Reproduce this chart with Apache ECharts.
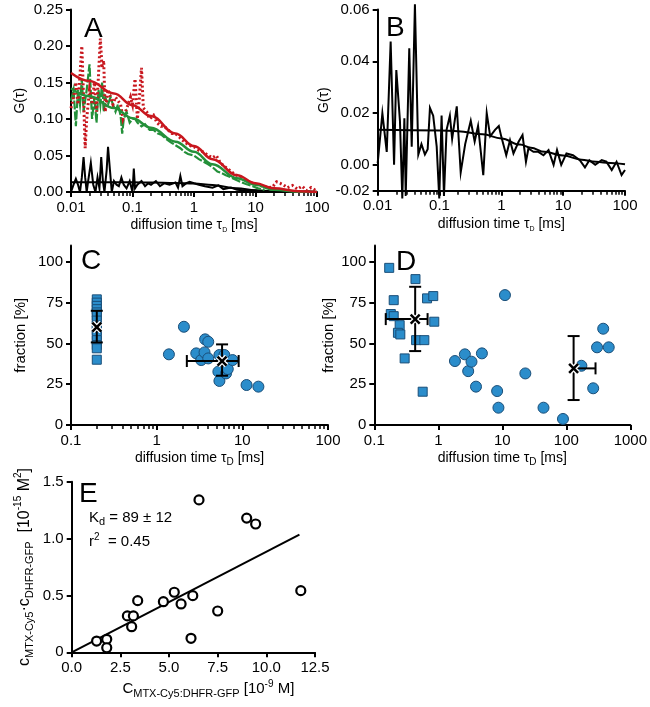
<!DOCTYPE html>
<html><head><meta charset="utf-8">
<script src="https://cdn.jsdelivr.net/npm/echarts@6/dist/echarts.min.js"></script>
<style>html,body{margin:0;padding:0;background:#fff}#c{width:650px;height:707px}</style>
</head><body><div id="c"></div>
<script>
// ---------- Panel A : autocorrelation (red / green) and cross-correlation (black) ----------
const tauRed = [0.010,0.011,0.012,0.013,0.014,0.015,0.016,0.017,0.018,0.020,0.022,0.024,0.026,0.028,0.030,0.032,0.034,0.036,0.040,0.044,0.048,0.053,0.058,0.064,0.070,0.077,0.085,0.093,0.10,0.11,0.12,0.13,0.14,0.15,0.17,0.19,0.22,0.25,0.29,0.33,0.38,0.44,0.50,0.58,0.67,0.77,0.90,1.0,1.2,1.4,1.7,2.0,2.3,2.6,3.0,3.5,4.0,4.7,5.5,6.5,7.5,9,11,13,16,19,22,25,28,33,40,48,57,68,80,100];
const gRed = [0.115,0.13,0.15,0.12,0.16,0.20,0.13,0.06,0.10,0.14,0.12,0.15,0.11,0.16,0.21,0.17,0.18,0.11,0.14,0.13,0.12,0.13,0.125,0.12,0.10,0.11,0.12,0.13,0.12,0.155,0.10,0.13,0.17,0.115,0.11,0.10,0.105,0.095,0.09,0.09,0.085,0.08,0.08,0.075,0.07,0.066,0.063,0.062,0.057,0.055,0.05,0.047,0.05,0.042,0.036,0.032,0.028,0.024,0.021,0.018,0.015,0.012,0.01,0.008,0.006,0.007,0.014,0.012,0.01,0.006,0.009,0.004,0.008,0.002,0.006,0.001];
const tauGreen = [0.010,0.011,0.012,0.013,0.014,0.015,0.016,0.018,0.020,0.022,0.024,0.026,0.028,0.030,0.032,0.034,0.036,0.040,0.044,0.048,0.053,0.058,0.064,0.068,0.072,0.080,0.090,0.10,0.11,0.12,0.14,0.16,0.19,0.22,0.26,0.30,0.36,0.42,0.50,0.60,0.70,0.80,1.0,1.2,1.4,1.7,2.0,2.4,2.8,3.3,4,5,6,7,9,11,14];
const gGreen = [0.125,0.14,0.09,0.14,0.12,0.155,0.11,0.14,0.175,0.10,0.13,0.095,0.14,0.12,0.15,0.11,0.13,0.12,0.13,0.12,0.11,0.12,0.105,0.08,0.10,0.11,0.095,0.10,0.10,0.095,0.09,0.093,0.085,0.085,0.08,0.078,0.072,0.068,0.064,0.06,0.055,0.052,0.05,0.045,0.042,0.038,0.034,0.028,0.026,0.023,0.02,0.016,0.013,0.011,0.008,0.005,0.003];
const tauBlkA = [0.010,0.011,0.012,0.013,0.014,0.015,0.016,0.017,0.018,0.019,0.021,0.023,0.025,0.027,0.029,0.031,0.033,0.035,0.038,0.040,0.043,0.046,0.050,0.055,0.060,0.066,0.072,0.080,0.090,0.100,0.105,0.11,0.12,0.14,0.16,0.18,0.20,0.24,0.28,0.33,0.40,0.50,0.55,0.60,0.65,0.75,0.85,1.0,1.2,1.5,2,2.5,3,4,5,7,10,15,20,30,50,70,100];
const gBlkA = [0.0,0.01,0.018,0.01,0.0,0.02,0.048,0.02,0.0,0.015,0.04,0.01,0.0,0.02,0.005,0.048,0.015,0.0,0.03,0.062,0.03,0.0,0.015,0.01,0.008,0.02,0.01,0.005,0.015,0.0,0.032,0.005,0.01,0.015,0.008,0.012,0.01,0.015,0.008,0.012,0.01,0.013,0.006,0.022,0.008,0.012,0.014,0.012,0.01,0.008,0.006,0.009,0.004,0.006,0.003,0.002,0.002,0.001,0.0,0.002,0.0,0.001,0.0];
const tauFitA = [0.01,0.02,0.05,0.1,0.2,0.5,1,2,5,10,20,50,100];
const fitRed = [0.163,0.152,0.135,0.119,0.104,0.080,0.063,0.045,0.023,0.012,0.005,0.001,0.0];
const fitGreen = [0.142,0.131,0.115,0.101,0.088,0.069,0.055,0.038,0.019,0.010,0.003,0.0005,0.0];
const fitBlkA = [0.0135,0.0135,0.0134,0.0133,0.013,0.0125,0.0115,0.0095,0.005,0.0025,0.001,0.0003,0.0];

// ---------- Panel B : cross-correlation ----------
const tauB = [0.010,0.0119,0.014,0.0162,0.0184,0.020,0.0229,0.025,0.027,0.0284,0.0324,0.0355,0.040,0.0454,0.051,0.058,0.0643,0.070,0.079,0.090,0.099,0.108,0.118,0.13,0.147,0.16,0.19,0.22,0.26,0.32,0.37,0.42,0.51,0.58,0.66,0.79,0.91,1.0,1.2,1.38,1.57,1.9,2.2,2.5,2.74,3.3,3.96,4.8,5.8,7.0,7.95,9.3,11.3,14.4,18.6,22.5,26.5,33,42,50,61,73,88,100];
const gB = [0.0007,0.0199,0.005,0.0476,0.0,0.0366,0.017,-0.013,0.018,-0.012,0.045,0.007,0.062,0.004,0.008,0.004,0.006,0.022,0.019,0.007,-0.013,0.019,-0.012,0.0135,0.019,0.01,0.0226,-0.003,0.008,0.017,0.009,0.015,-0.004,0.020,0.011,0.0135,0.015,0.0108,0.0037,0.0095,0.0044,0.0089,0.0115,0.0012,0.0063,0.005,0.005,0.0037,0.0057,0.0,0.0057,0.0,0.0044,0.0037,0.0018,-0.001,0.0018,0.0,0.0018,0.0012,-0.002,0.0012,-0.004,-0.002];
const tauFitB = [0.01,0.1,0.2,0.5,1,2,3,5,10,20,30,50,100];
const fitB = [0.0135,0.0133,0.013,0.0118,0.0102,0.0078,0.0066,0.005,0.0036,0.002,0.0013,0.0008,0.0002];
const ticksB = [-0.01, 0, 0.02, 0.04, 0.06];
const labelsB = ['-0.02', '0.00', '0.02', '0.04', '0.06'];

// ---------- Panel C ----------
const cSqX = [0.2,0.2,0.2,0.2,0.2,0.2,0.2,0.2,0.2,0.2,0.2,0.2,0.2,0.2];
const cSqY = [77,75,73,71,69,67,64,61,58,55,52,49,47,40];
const cCircX = [1.39,2.08,2.9,3.31,3.62,3.68,4.0,4.0,5.4,5.25,5.4,6.17,6.45,6.76,7.7,11.2,15.4];
const cCircY = [43.3,60.2,43.9,39.8,44.5,52.5,51,40.8,42.9,32.7,27,42.9,31.6,34.3,39.8,24.5,23.5];
// [x, y, xLow, xHigh, yLow, yHigh]
const cMeans = [[0.2, 60, null, null, 50.6, 70], [5.8, 39.2, 2.25, 9.06, 30.2, 49.4]];

// ---------- Panel D ----------
const dSqX = [0.171,0.201,0.181,0.201,0.249,0.234,0.255,0.298,0.44,0.45,0.57,0.605,0.667,0.834,0.865];
const dSqY = [96.3,76.5,68,66.7,61.2,56.5,55.5,40.8,89.4,52,20.4,52,77.6,79,63.3];
const dCircX = [1.82,2.6,2.93,3.3,3.88,4.8,8.3,8.7,11.0,22.9,44,88.7,172,263,302,377,460];
const dCircY = [39.2,43.3,33,38.8,23.5,43.9,20.8,10.6,79.6,31.6,10.6,3.7,36.3,22.5,47.6,59,47.6];
const dMeans = [[0.435, 64.9, 0.151, 0.68, 45.3, 84.7], [130, 34.7, null, 286, 15.3, 54.5]];
const fracTicks = [0, 25, 50, 75, 100];

// ---------- Panel E ----------
const eX = [1.28,1.80,1.80,2.86,3.17,3.08,3.39,4.71,5.27,5.62,6.22,6.13,6.54,7.5,8.99,9.45,11.77];
const eY = [0.099,0.114,0.04,0.32,0.32,0.225,0.454,0.445,0.528,0.425,0.498,0.123,1.34,0.363,1.18,1.128,0.542];
const eFitX = [0, 11.7];
const eFitY = [0, 1.035];

// ---------- helpers ----------
const FONT = '"Liberation Sans", Arial, Helvetica, sans-serif';
const zip = (a, b) => a.map((v, i) => [v, b[i]]);
// minor-tick positions expressed as decade exponents (log10 of 2..9 x 10^d)
function minorExps(a, b) { const r = []; for (let d = a; d < b; d++) for (let k = 2; k <= 9; k++) r.push(d + Math.log10(k)); return r; }
function merge(t, s) { for (const k in s) { if (s[k] && typeof s[k] === 'object' && !Array.isArray(s[k]) && typeof s[k] !== 'function') { t[k] = merge(t[k] && typeof t[k] === 'object' ? t[k] : {}, s[k]); } else t[k] = s[k]; } return t; }
function axis(extra) {
  return merge({
    axisLine: { show: true, onZero: false, lineStyle: { color: '#000', width: 2 } },
    axisTick: { show: true, inside: false, length: 5, lineStyle: { color: '#000', width: 2 } },
    axisLabel: { color: '#000', fontSize: 15, fontFamily: FONT, margin: 8 },
    splitLine: { show: false },
    nameTextStyle: { color: '#000', fontSize: 14, fontFamily: FONT }
  }, extra);
}
const logFmt = v => String(+(+v).toPrecision(3));
// tick-only axis spanning the same decades linearly in exponent space
function minorAxis(grid, a, b) {
  return { type: 'value', gridIndex: grid, min: a, max: b, position: 'bottom',
    axisLine: { show: false, onZero: false }, axisLabel: { show: false }, splitLine: { show: false },
    axisTick: { show: true, inside: false, length: 4, customValues: minorExps(a, b), lineStyle: { color: '#000', width: 1.5 } } };
}
const richN = (fs, lh) => ({ fontSize: fs, lineHeight: lh, fontFamily: FONT, color: '#000' });
const tauName = (sub) => ({
  name: '{n|diffusion time τ}{s|D}{n| [ms]}', nameLocation: 'middle', nameGap: 24,
  nameTextStyle: { rich: { n: richN(14, 18), s: { fontSize: sub, lineHeight: sub, verticalAlign: 'bottom', fontFamily: FONT, color: '#000' } } }
});
const fracName = (gap) => ({ name: 'fraction [%]', nameLocation: 'middle', nameGap: gap, nameTextStyle: { fontSize: 15 } });
const gName = (gap) => ({ name: 'G(τ)', nameLocation: 'middle', nameGap: gap, nameTextStyle: { fontSize: 14 } });

function errRender(params, api) {
  const ok = v => v != null && !isNaN(v);
  const x = api.value(0), y = api.value(1);
  const xl = api.value(2), xh = api.value(3), yl = api.value(4), yh = api.value(5);
  const c = api.coord([x, y]);
  const ch = [];
  const st = { stroke: '#000', lineWidth: 2 };
  const line = (x1, y1, x2, y2, s) => ch.push({ type: 'line', shape: { x1, y1, x2, y2 }, style: s || st });
  const left = ok(xl) ? api.coord([xl, y])[0] : c[0];
  const right = ok(xh) ? api.coord([xh, y])[0] : c[0];
  if (left !== right) line(left, c[1], right, c[1]);
  if (ok(xl)) line(left, c[1] - 6, left, c[1] + 6);
  if (ok(xh)) line(right, c[1] - 6, right, c[1] + 6);
  if (ok(yl) && ok(yh)) {
    const t = api.coord([x, yh])[1], b = api.coord([x, yl])[1];
    line(c[0], t, c[0], b);
    line(c[0] - 6, t, c[0] + 6, t);
    line(c[0] - 6, b, c[0] + 6, b);
  }
  const r = 4.5;
  const halo = { stroke: '#fff', lineWidth: 5 };
  line(c[0] - r, c[1] - r, c[0] + r, c[1] + r, halo);
  line(c[0] - r, c[1] + r, c[0] + r, c[1] - r, halo);
  const bs = { stroke: '#000', lineWidth: 2.5 };
  line(c[0] - r, c[1] - r, c[0] + r, c[1] + r, bs);
  line(c[0] - r, c[1] + r, c[0] + r, c[1] - r, bs);
  return { type: 'group', children: ch };
}

const RED = '#c8171e', GREEN = '#24903a', BLUE = '#2b8dcb', BLUEB = '#1a4e78';
const lineS = (xi, yi, data, color, width, type, smooth, z) => ({
  type: 'line', xAxisIndex: xi, yAxisIndex: yi, data, symbol: 'none', showSymbol: false,
  smooth: smooth || false, smoothMonotone: smooth ? 'x' : undefined, z: z || 2,
  lineStyle: { color, width, type: type || 'solid', cap: 'butt', join: 'miter' }, silent: true, animation: false
});
const sq = (xi, yi, data, sym, size) => ({
  type: 'scatter', xAxisIndex: xi, yAxisIndex: yi, data, symbol: sym, symbolSize: size,
  itemStyle: { color: BLUE, borderColor: BLUEB, borderWidth: 1, opacity: 1 }, animation: false, z: 3
});

const option = {
  backgroundColor: '#fff',
  animation: false,
  grid: [
    { left: 71, top: 9.5, width: 246, height: 182.5 },
    { left: 377.7, top: 9.5, width: 247.3, height: 181.2 },
    { left: 71, top: 245.5, width: 257, height: 179.5 },
    { left: 374.3, top: 245.5, width: 259, height: 179.5 },
    { left: 71.7, top: 481.7, width: 243.3, height: 170.6 }
  ],
  xAxis: [
    axis(merge({ type: 'log', logBase: 10, gridIndex: 0, min: 0.01, max: 100, axisLabel: { formatter: logFmt } }, tauName(7))),
    minorAxis(0, -2, 2),
    axis(merge({ type: 'log', logBase: 10, gridIndex: 1, min: 0.01, max: 100, axisLabel: { formatter: logFmt } }, tauName(7))),
    minorAxis(1, -2, 2),
    axis(merge({ type: 'log', logBase: 10, gridIndex: 2, min: 0.1, max: 100, axisLabel: { formatter: logFmt } }, tauName(10))),
    minorAxis(2, -1, 2),
    axis(merge({ type: 'log', logBase: 10, gridIndex: 3, min: 0.1, max: 1000, axisLabel: { formatter: logFmt } }, tauName(10))),
    axis({ type: 'value', gridIndex: 4, min: 0, max: 12.5, interval: 2.5,
      axisLabel: { formatter: v => v.toFixed(1) },
      name: '{n|C}{s|MTX-Cy5:DHFR-GFP}{n| [10}{p|-9}{n| M]}', nameLocation: 'middle', nameGap: 27,
      nameTextStyle: { padding: [0, 0, 0, 30], rich: {
        n: richN(15, 20),
        s: { fontSize: 11, lineHeight: 10, verticalAlign: 'bottom', fontFamily: FONT, color: '#000' },
        p: { fontSize: 10, lineHeight: 10, verticalAlign: 'top', fontFamily: FONT, color: '#000' } } } })
  ],
  yAxis: [
    axis(merge({ type: 'value', gridIndex: 0, min: 0, max: 0.25, interval: 0.05, axisLabel: { formatter: v => v.toFixed(2) } }, gName(44))),
    axis(merge({ type: 'value', gridIndex: 1, min: -0.01, max: 0.06,
      axisLabel: { customValues: ticksB, formatter: v => labelsB[ticksB.findIndex(t => Math.abs(t - v) < 1e-6)] },
      axisTick: { customValues: ticksB } }, gName(43))),
    axis(merge({ type: 'value', gridIndex: 2, min: 0, max: 110, axisLabel: { customValues: fracTicks }, axisTick: { customValues: fracTicks } }, fracName(43))),
    axis(merge({ type: 'value', gridIndex: 3, min: 0, max: 110, axisLabel: { customValues: fracTicks }, axisTick: { customValues: fracTicks } }, fracName(38))),
    axis({ type: 'value', gridIndex: 4, min: 0, max: 1.5, interval: 0.5,
      axisLabel: { formatter: v => v === 0 ? '0' : v.toFixed(1) },
      name: '{n|c}{s|MTX-Cy5}{n|·c}{s|DHFR-GFP}{n|  [10}{p|-15}{n| M}{p|2}{n|]}', nameLocation: 'middle', nameGap: 36,
      nameTextStyle: { rich: {
        n: richN(16, 22),
        s: { fontSize: 11, lineHeight: 10, verticalAlign: 'bottom', fontFamily: FONT, color: '#000' },
        p: { fontSize: 10, lineHeight: 10, verticalAlign: 'top', fontFamily: FONT, color: '#000' } } } })
  ],
  series: [
    lineS(0, 0, zip(tauBlkA, gBlkA), '#000', 2, 'solid', false, 2),
    lineS(0, 0, zip(tauFitA, fitBlkA), '#000', 2, 'solid', 0.4, 2),
    lineS(0, 0, zip(tauGreen, gGreen), GREEN, 2.2, [9, 2], false, 3),
    lineS(0, 0, zip(tauRed, gRed), RED, 3, [2, 2.5], false, 4),
    lineS(0, 0, zip(tauFitA, fitGreen), GREEN, 2.5, 'solid', 0.4, 5),
    lineS(0, 0, zip(tauFitA, fitRed), RED, 2.5, 'solid', 0.4, 5),
    merge(lineS(2, 1, zip(tauB, gB), '#000', 2, 'solid', false, 2), { clip: false }),
    lineS(2, 1, zip(tauFitB, fitB), '#000', 2, 'solid', 0.4, 3),
    sq(4, 2, zip(cSqX, cSqY), 'rect', 9),
    sq(4, 2, zip(cCircX, cCircY), 'circle', 11),
    { type: 'custom', xAxisIndex: 4, yAxisIndex: 2, data: cMeans, renderItem: errRender, z: 6, animation: false,
      encode: { x: 0, y: 1 } },
    sq(6, 3, zip(dSqX, dSqY), 'rect', 9),
    sq(6, 3, zip(dCircX, dCircY), 'circle', 11),
    { type: 'custom', xAxisIndex: 6, yAxisIndex: 3, data: dMeans, renderItem: errRender, z: 6, animation: false,
      encode: { x: 0, y: 1 } },
    { type: 'scatter', xAxisIndex: 7, yAxisIndex: 4, data: zip(eX, eY), symbol: 'circle', symbolSize: 9,
      itemStyle: { color: '#fff', borderColor: '#000', borderWidth: 2.2, opacity: 1 }, z: 4, animation: false },
    lineS(7, 4, zip(eFitX, eFitY), '#000', 2, 'solid', false, 3)
  ],
  graphic: [
    { type: 'text', left: 84, top: 15, style: { text: 'A', font: '28px ' + FONT, fill: '#000' } },
    { type: 'text', left: 386, top: 14, style: { text: 'B', font: '28px ' + FONT, fill: '#000' } },
    { type: 'text', left: 81, top: 247, style: { text: 'C', font: '28px ' + FONT, fill: '#000' } },
    { type: 'text', left: 396, top: 248, style: { text: 'D', font: '28px ' + FONT, fill: '#000' } },
    { type: 'text', left: 79, top: 480, style: { text: 'E', font: '28px ' + FONT, fill: '#000' } },
    { type: 'text', left: 89, top: 510, style: { text: '{n|K}{s|d}{n| = 89 ± 12}', rich: {
        n: richN(15, 20), s: { fontSize: 11, lineHeight: 8, verticalAlign: 'bottom', fontFamily: FONT, fill: '#000' } } } },
    { type: 'text', left: 89, top: 532, style: { text: '{n|r}{p|2}{n|  = 0.45}', rich: {
        n: richN(15, 20), p: { fontSize: 10, lineHeight: 8, verticalAlign: 'top', fontFamily: FONT, fill: '#000' } } } }
  ]
};
const chart = echarts.init(document.getElementById('c'), null, { renderer: 'canvas' });
chart.setOption(option);
</script></body></html>
